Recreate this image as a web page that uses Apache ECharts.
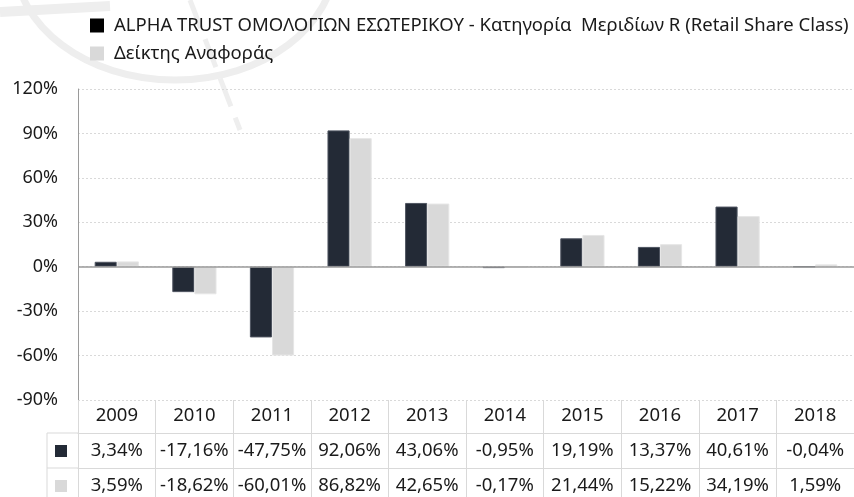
<!DOCTYPE html>
<html>
<head>
<meta charset="utf-8">
<script src="https://cdn.jsdelivr.net/npm/echarts@6/dist/echarts.min.js"></script>
<style>
	html, body { margin: 0; padding: 0; background: #fff; }
	#chart { width: 854px; height: 497px; }
</style>
</head>
<body>
<div id="chart"></div>
<script>
	const years = ['2009', '2010', '2011', '2012', '2013', '2014', '2015', '2016', '2017', '2018']
	const fundName = 'ALPHA TRUST ΟΜΟΛΟΓΙΩΝ ΕΣΩΤΕΡΙΚΟΥ - Κατηγορία  Μεριδίων R (Retail Share Class)'
	const benchName = 'Δείκτης Αναφοράς'
	const fundValues = [3.34, -17.16, -47.75, 92.06, 43.06, -0.95, 19.19, 13.37, 40.61, -0.04]
	const benchValues = [3.59, -18.62, -60.01, 86.82, 42.65, -0.17, 21.44, 15.22, 34.19, 1.59]
	const yTicks = { min: -90, max: 120, step: 30 }

	const FONT = '"Noto Sans", sans-serif'
	const DARK = '#232a36'
	const LIGHT = '#d9d9d9'
	const LINE = '#d9d9d9'
	const TXT = '#1a1a1a'

	// plot area and table rows
	const G = { left: 78, right: 0, top: 89, bottom: 97 }
	const ROW = [33, 35, 35]
	const plotBottom = 497 - G.bottom

	const fmt = v => v.toFixed(2).replace('.', ',') + '%'

	const tableAxis = (data, offset, rowH, showLine, margin) => ({
		type: 'category',
		data: data,
		gridIndex: 0,
		position: 'bottom',
		offset: offset,
		axisLine: { show: showLine, onZero: false, lineStyle: { color: LINE, width: 1 } },
		axisTick: { show: true, interval: 0, length: rowH, lineStyle: { color: LINE, width: 1 } },
		axisLabel: {
			interval: 0, margin: margin, verticalAlign: 'middle',
			fontFamily: FONT, fontSize: 18.5, color: TXT
		},
		splitLine: { show: false }
	})

	const chart = echarts.init(document.getElementById('chart'), null, { renderer: 'canvas' })

	const y1 = plotBottom + ROW[0]
	const y2 = y1 + ROW[1]
	const keyX = 47

	chart.setOption({
		animation: false,
		backgroundColor: '#fff',
		grid: Object.assign({ containLabel: false }, G),
		legend: {
			orient: 'vertical',
			left: 90,
			top: 16,
			padding: 0,
			itemWidth: 14,
			itemHeight: 14,
			itemGap: 9,
			icon: 'rect',
			textStyle: { fontFamily: FONT, fontSize: 18.5, color: TXT, padding: [0, 0, 0, 5] },
			data: [
				{ name: fundName, itemStyle: { color: '#000', borderWidth: 0 } },
				{ name: benchName, itemStyle: { color: LIGHT, borderWidth: 0 } }
			]
		},
		xAxis: [
			tableAxis(years, 0, ROW[0], false, 16),
			tableAxis(fundValues.map(fmt), ROW[0], ROW[1], true, 18),
			tableAxis(benchValues.map(fmt), ROW[0] + ROW[1], ROW[2], true, 18)
		],
		yAxis: {
			type: 'value',
			min: yTicks.min,
			max: yTicks.max,
			interval: yTicks.step,
			axisLine: { show: true, lineStyle: { color: '#9a9a9a', width: 1 } },
			axisTick: { show: false },
			axisLabel: {
				formatter: '{value}%', margin: 20,
				fontFamily: FONT, fontSize: 18, color: TXT
			},
			splitLine: { show: true, lineStyle: { color: LINE, type: [2, 2], width: 1 } }
		},
		series: [
			{
				name: fundName,
				type: 'bar',
				data: fundValues,
				barGap: '0%',
				barCategoryGap: '43%',
				itemStyle: { color: DARK, borderColor: '#4e5460', borderWidth: 1 },
				markLine: {
					silent: true,
					symbol: 'none',
					label: { show: false },
					lineStyle: { color: '#9a9a9a', type: 'solid', width: 1.5 },
					data: [{ yAxis: 0 }]
				}
			},
			{
				name: benchName,
				type: 'bar',
				data: benchValues,
				itemStyle: { color: LIGHT, borderColor: '#e6e6e6', borderWidth: 1 }
			}
		],
		graphic: [
			// faint logo watermark behind the legend
			{
				type: 'ellipse', z: -10, silent: true,
				shape: { cx: 175, cy: -40, rx: 160, ry: 120 },
				style: { fill: null, stroke: '#eeeeee', lineWidth: 7 }
			},
			{
				type: 'line', z: -10, silent: true,
				shape: { x1: 0, y1: 12, x2: 110, y2: 6 },
				style: { stroke: '#eeeeee', lineWidth: 10 }
			},
			{
				type: 'line', z: -10, silent: true,
				shape: { x1: 190, y1: 0, x2: 240, y2: 130 },
				style: { stroke: '#eeeeee', lineWidth: 5, lineDash: [30, 12] }
			},
			// key column of the data table
			{
				type: 'polyline', silent: true,
				shape: { points: [[G.left, y1], [keyX, y1], [keyX, 497]] },
				style: { stroke: LINE, lineWidth: 1, fill: null }
			},
			{
				type: 'line', silent: true,
				shape: { x1: keyX, y1: y2, x2: G.left, y2: y2 },
				style: { stroke: LINE, lineWidth: 1 }
			},
			{
				type: 'rect', silent: true,
				shape: { x: 55, y: y1 + 12, width: 12, height: 12 },
				style: { fill: DARK }
			},
			{
				type: 'rect', silent: true,
				shape: { x: 55, y: y2 + 12, width: 12, height: 12 },
				style: { fill: LIGHT }
			}
		]
	})
</script>
</body>
</html>
